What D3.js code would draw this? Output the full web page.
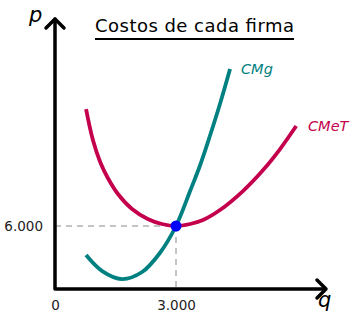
<!DOCTYPE html>
<html>
<head>
<meta charset="utf-8">
<script src="https://cdn.jsdelivr.net/npm/d3@7"></script>
<style>
  body { margin: 0; background: #fff; }
  text { font-family: "DejaVu Sans", sans-serif; }
</style>
</head>
<body>
<div id="chart"></div>
<script>
// values (q = cantidad, p = costo)
var qCMeT = [770, 940, 1120, 1310, 1560, 1910, 2300, 2650, 3000, 3350, 3670, 4090, 4660, 5160, 5580, 5980];
var pCMeT = [17140, 14190, 12100, 10570, 9050, 7620, 6670, 6190, 6000, 6190, 6570, 7520, 9330, 11330, 13330, 15520];
var qCMg = [770, 1170, 1660, 2160, 2600, 3000, 3350, 3600, 3840, 4090, 4340];
var pCMg = [3240, 1710, 950, 1620, 3430, 6000, 9330, 11810, 14570, 17620, 20950];
var eqQ = 3000, eqP = 6000;
var xTicks = [0, 3000];
var xTickLabels = ["0", "3.000"];
var yTicks = [6000];
var yTickLabels = ["6.000"];

var w = 354, h = 318;
var svg = d3.select("#chart").append("svg").attr("width", w).attr("height", h);

var x = d3.scaleLinear().domain([0, 3000]).range([55, 176]);
var y = d3.scaleLinear().domain([0, 6000]).range([289, 226]);

var teal = "#008080", crimson = "#c4004c";

// dashed guides
svg.append("line").attr("x1", x(0)).attr("x2", x(eqQ)).attr("y1", y(eqP)).attr("y2", y(eqP))
  .attr("stroke", "#888").attr("stroke-width", 1).attr("stroke-dasharray", "6,5");
svg.append("line").attr("x1", x(eqQ)).attr("x2", x(eqQ)).attr("y1", y(eqP)).attr("y2", y(0))
  .attr("stroke", "#888").attr("stroke-width", 1).attr("stroke-dasharray", "6,5");

var line = d3.line().x(function(d) { return x(d[0]); }).y(function(d) { return y(d[1]); })
  .curve(d3.curveCatmullRom.alpha(0.5));

svg.append("path").datum(d3.zip(qCMeT, pCMeT)).attr("d", line)
  .attr("fill", "none").attr("stroke", crimson).attr("stroke-width", 3.8);
svg.append("path").datum(d3.zip(qCMg, pCMg)).attr("d", line)
  .attr("fill", "none").attr("stroke", teal).attr("stroke-width", 3.8);

svg.append("circle").attr("cx", x(eqQ)).attr("cy", y(eqP)).attr("r", 5.5).attr("fill", "#0000ff");

// axes with arrows
var ax = svg.append("g").attr("stroke", "#000").attr("stroke-width", 3.5).attr("fill", "none")
  .attr("stroke-linecap", "round").attr("stroke-linejoin", "round");
ax.append("path").attr("d", "M" + x(0) + ",19V" + y(0) + "H325");
ax.append("path").attr("d", "M" + (x(0) - 9) + ",28L" + x(0) + ",19L" + (x(0) + 9) + ",28");
ax.append("path").attr("d", "M317,280L326,289L317,298");

var xAxis = d3.axisBottom(x).tickValues(xTicks).tickSize(0).tickPadding(0)
  .tickFormat(function(d, i) { return xTickLabels[i]; });
var gx = svg.append("g").attr("transform", "translate(0," + y(0) + ")").call(xAxis);
gx.select(".domain").remove();
gx.selectAll("text").attr("font-size", 13.5).attr("font-family", "DejaVu Sans, sans-serif")
  .attr("fill", "#222").attr("y", 21).attr("dy", 0);

var yAxis = d3.axisLeft(y).tickValues(yTicks).tickSize(0).tickPadding(12)
  .tickFormat(function(d, i) { return yTickLabels[i]; });
var gy = svg.append("g").attr("transform", "translate(" + x(0) + ",0)").call(yAxis);
gy.select(".domain").remove();
gy.selectAll("text").attr("font-size", 13.5).attr("font-family", "DejaVu Sans, sans-serif").attr("fill", "#222");

// labels
svg.append("text").attr("x", 29).attr("y", 22).attr("font-size", 21).attr("font-style", "italic").text("p");
svg.append("text").attr("x", 318).attr("y", 307).attr("font-size", 21).attr("font-style", "italic").text("q");
svg.append("text").attr("x", 241).attr("y", 74).attr("font-size", 14.5).attr("font-style", "italic")
  .attr("fill", teal).text("CMg");
svg.append("text").attr("x", 308).attr("y", 131).attr("font-size", 14.5).attr("font-style", "italic")
  .attr("fill", crimson).text("CMeT");

svg.append("text").attr("x", 95).attr("y", 32).attr("font-size", 18)
  .attr("textLength", 199).attr("lengthAdjust", "spacing")
  .attr("fill", "#000").text("Costos de cada firma");
svg.append("line").attr("x1", 95).attr("x2", 294).attr("y1", 39).attr("y2", 39)
  .attr("stroke", "#000").attr("stroke-width", 2.2);
</script>
</body>
</html>
